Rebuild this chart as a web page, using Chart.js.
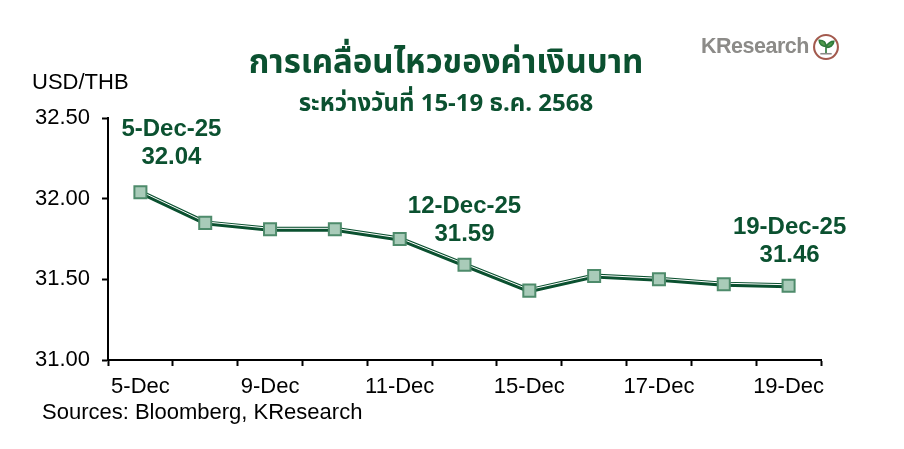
<!DOCTYPE html>
<html>
<head>
<meta charset="utf-8">
<script src="https://cdn.jsdelivr.net/npm/chart.js@4.4.1/dist/chart.umd.min.js"></script>
<style>
  html, body { margin: 0; padding: 0; background: #fff; }
  #wrap { position: relative; width: 904px; height: 449px; overflow: hidden; }
  #chart { position: absolute; left: 0; top: 0; }
  .txt { position: absolute; white-space: nowrap; font-family: "Liberation Sans", Arial, sans-serif; }
  #title { left: 0; width: 892px; top: 38px; text-align: center; color: #0b5130; font-weight: bold; font-size: 33px;
           font-family: "Noto Sans Thai", "Noto Sans", "Liberation Sans", sans-serif; }
  #subtitle { left: 0; width: 892px; top: 86px; text-align: center; color: #0b5130; font-weight: bold; font-size: 24px;
              font-family: "Noto Sans Thai", "Noto Sans", "Liberation Sans", sans-serif; }
  #unit { left: 32px; top: 69px; font-size: 22px; color: #000; }
  #source { left: 42px; top: 399px; font-size: 22px; color: #000; }
  #logo { left: 701px; top: 34px; font-size: 21.5px; font-weight: bold; color: #8c8b88; letter-spacing: -0.5px; }
  #logo-icon { position: absolute; left: 812px; top: 33px; }
</style>
</head>
<body>
<div id="wrap">
  <canvas id="chart" width="904" height="449"></canvas>
  <div class="txt" id="title">การเคลื่อนไหวของค่าเงินบาท</div>
  <div class="txt" id="subtitle">ระหว่างวันที่ 15-19 ธ.ค. 2568</div>
  <div class="txt" id="unit">USD/THB</div>
  <div class="txt" id="source">Sources: Bloomberg, KResearch</div>
  <div class="txt" id="logo">KResearch</div>
  <svg id="logo-icon" width="28" height="28" viewBox="0 0 27 27">
    <circle cx="13.5" cy="13.5" r="11.5" fill="none" stroke="#a35a4e" stroke-width="2"/>
    <path d="M13.5 20 L13.5 12 M13.5 13 C10 13 7 11 7 7 C11 7 13.5 9 13.5 13 M13.5 13 C16 9 19 8 21 8 C21 12 17 14 13.5 14" stroke="#2f7a3c" stroke-width="1.6" fill="#4f9a4a"/>
    <path d="M8 20 L19 20" stroke="#8c8b88" stroke-width="1.5"/>
  </svg>
</div>
<script>
const GREEN = "#0b5130";

const dates = ["5-Dec", "8-Dec", "9-Dec", "10-Dec", "11-Dec", "12-Dec", "15-Dec", "16-Dec", "17-Dec", "18-Dec", "19-Dec"];
const rates = [32.04, 31.85, 31.81, 31.81, 31.75, 31.59, 31.43, 31.52, 31.50, 31.47, 31.46];
const callouts = [
  { index: 0, title: "5-Dec-25", dx: 31, dy: -63 },
  { index: 5, title: "12-Dec-25", dx: 0, dy: -58 },
  { index: 10, title: "19-Dec-25", dx: 1, dy: -58 },
];

// thin white highlight sits 1px above the dark line
const liftLine = {
  id: "liftLine",
  beforeDatasetDraw(chart, args) {
    if (args.index !== 1) return;
    chart.ctx.save();
    chart.ctx.translate(0, -1);
  },
  afterDatasetDraw(chart, args) {
    if (args.index !== 1) return;
    chart.ctx.restore();
  },
};

const calloutLabels = {
  id: "calloutLabels",
  afterDraw(chart) {
    const { ctx, scales } = chart;
    ctx.save();
    ctx.fillStyle = GREEN;
    ctx.font = "bold 24px 'Liberation Sans', Arial, sans-serif";
    ctx.textAlign = "center";
    ctx.textBaseline = "middle";
    callouts.forEach((c) => {
      const x = scales.x.getPixelForValue(c.index) + c.dx;
      const y = scales.y.getPixelForValue(rates[c.index]) + c.dy;
      ctx.fillText(c.title, x, y);
      ctx.fillText(rates[c.index].toFixed(2), x, y + 28);
    });
    ctx.restore();
  },
};

new Chart(document.getElementById("chart"), {
  type: "line",
  data: {
    labels: dates,
    datasets: [
      {
        data: rates, showLine: false, order: 0,
        pointStyle: "rect", pointRadius: 8.5, pointHoverRadius: 8.5, pointBorderWidth: 2,
        pointBackgroundColor: "#a9cbb9", pointBorderColor: "#4e8b6b",
      },
      {
        data: rates, order: 1, borderColor: "#ffffff", borderWidth: 1, pointRadius: 0, tension: 0,
      },
      {
        data: rates, order: 2, borderColor: GREEN, borderWidth: 5, pointRadius: 0, tension: 0,
      },
    ],
  },
  options: {
    responsive: false, animation: false, events: [],
    layout: { padding: { left: 0, right: 83, top: 118, bottom: 0 } },
    plugins: { legend: { display: false }, tooltip: { enabled: false }, title: { display: false } },
    scales: {
      x: {
        offset: true,
        afterFit: (s) => { s.height = 89; },
        border: { display: true, color: "#000", width: 2 },
        grid: { offset: true, drawOnChartArea: false, drawTicks: true, tickLength: 6, tickWidth: 2, tickColor: "#000" },
        ticks: {
          autoSkip: false, maxRotation: 0, padding: 8, color: "#000",
          font: { family: "'Liberation Sans', Arial, sans-serif", size: 22 },
          callback: (v, i) => (i % 2 === 0 ? dates[i] : ""),
        },
      },
      y: {
        min: 31, max: 32.5,
        afterFit: (s) => { s.width = 108; },
        border: { display: true, color: "#000", width: 2 },
        grid: { drawOnChartArea: false, drawTicks: true, tickLength: 6, tickWidth: 2, tickColor: "#000" },
        ticks: {
          stepSize: 0.5, padding: 12, color: "#000",
          font: { family: "'Liberation Sans', Arial, sans-serif", size: 22 },
          callback: (v) => v.toFixed(2),
        },
      },
    },
  },
  plugins: [liftLine, calloutLabels],
});
</script>
</body>
</html>
